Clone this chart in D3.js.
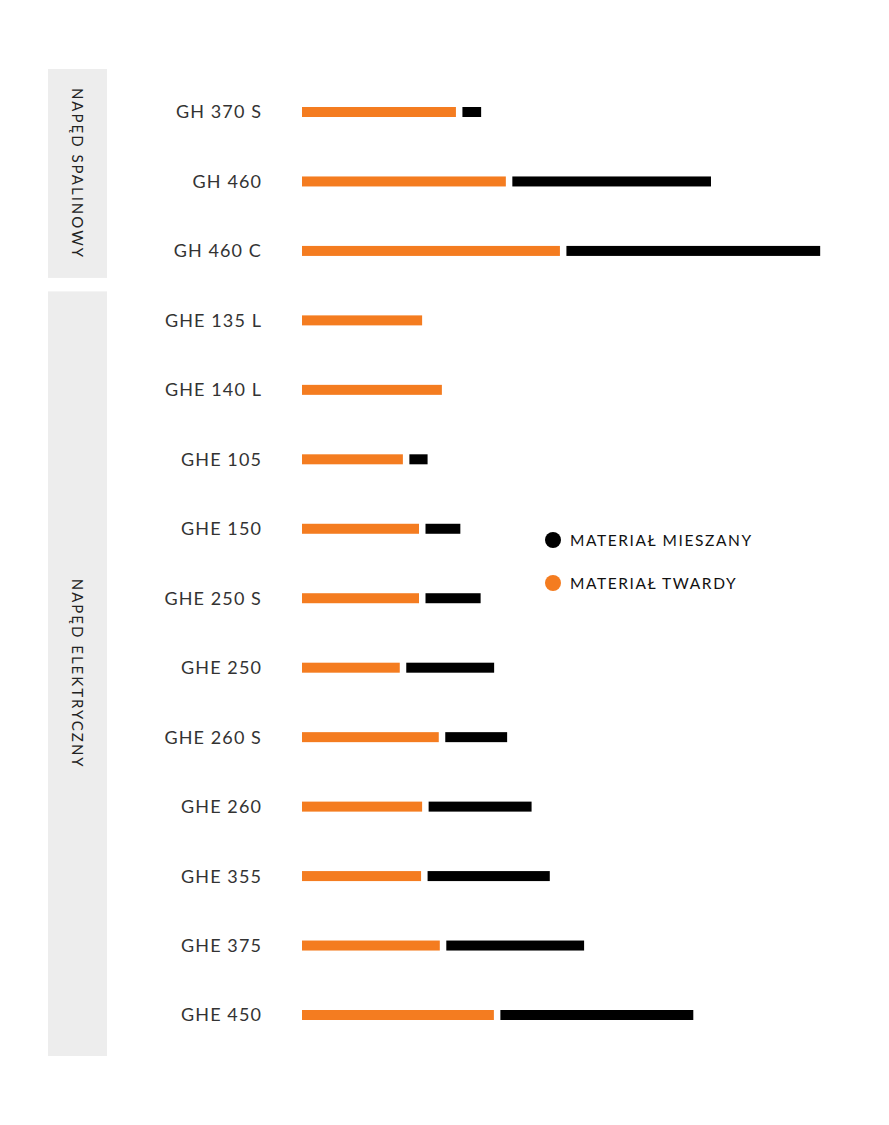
<!DOCTYPE html>
<html>
<head>
<meta charset="utf-8">
<script src="https://cdn.jsdelivr.net/npm/d3@7"></script>
<style>
  body { margin: 0; background: #fff; }
  text { font-family: Lato, "Open Sans", sans-serif; }
</style>
</head>
<body>
<script>
// data
const models = ["GH 370 S", "GH 460", "GH 460 C", "GHE 135 L", "GHE 140 L", "GHE 105", "GHE 150",
  "GHE 250 S", "GHE 250", "GHE 260 S", "GHE 260", "GHE 355", "GHE 375", "GHE 450"];
const hard = [29.6, 39.2, 49.6, 23.1, 26.9, 19.4, 22.5, 22.5, 18.8, 26.3, 23.1, 22.9, 26.5, 36.9];
const mixed = [3.6, 38.2, 48.8, 0, 0, 3.5, 6.7, 10.6, 16.9, 11.9, 19.8, 23.5, 26.5, 37.1];
const groups = [
  { name: "NAPĘD SPALINOWY", first: "GH 370 S", last: "GH 460 C" },
  { name: "NAPĘD ELEKTRYCZNY", first: "GHE 135 L", last: "GHE 450" }
];
const legendItems = ["MATERIAŁ MIESZANY", "MATERIAŁ TWARDY"];

const w = 889;
const h = 1125;
const orange = "#f47c20";
const gap = 6.5;
const barH = 10;

const svg = d3.select("body").append("svg").attr("width", w).attr("height", h);

const xScale = d3.scaleLinear().domain([0, 100]).range([302, 822]);
const yScale = d3.scalePoint().domain(models).range([112, 1015]);

// panel extents around each group of rows
const panelTop = (d, i) => i === 0 ? yScale(d.first) - 43 : yScale(d.first) - 29;
const panelBottom = (d, i) => i === 0 ? yScale(d.last) + 27 : yScale(d.last) + 41;

// group panels on the left
const grp = svg.selectAll(".group").data(groups).enter().append("g").attr("class", "group");

grp.append("rect")
  .attr("x", 48)
  .attr("width", 59)
  .attr("y", panelTop)
  .attr("height", (d, i) => panelBottom(d, i) - panelTop(d, i))
  .attr("fill", "#ededed");

grp.append("text")
  .attr("transform", (d, i) => "translate(77," + (panelTop(d, i) + panelBottom(d, i)) / 2 + ") rotate(90)")
  .attr("text-anchor", "middle")
  .attr("dy", "0.35em")
  .attr("font-size", 15)
  .attr("letter-spacing", 2)
  .attr("fill", "#222")
  .text(d => d.name);

// model labels
svg.selectAll(".label").data(models).enter().append("text")
  .attr("class", "label")
  .attr("x", 262)
  .attr("y", d => yScale(d))
  .attr("dy", "0.36em")
  .attr("text-anchor", "end")
  .attr("font-size", 18)
  .attr("letter-spacing", 1.1)
  .attr("fill", "#333")
  .text(d => d);

// hard material bars
svg.selectAll(".hard").data(models).enter().append("rect")
  .attr("class", "hard")
  .attr("x", xScale(0))
  .attr("y", d => yScale(d) - barH / 2)
  .attr("width", (d, i) => xScale(hard[i]) - xScale(0))
  .attr("height", barH)
  .attr("fill", orange);

// mixed material bars
svg.selectAll(".mixed").data(models.filter((d, i) => mixed[i] > 0)).enter().append("rect")
  .attr("class", "mixed")
  .attr("x", d => xScale(hard[models.indexOf(d)]) + gap)
  .attr("y", d => yScale(d) - barH / 2)
  .attr("width", d => xScale(mixed[models.indexOf(d)]) - xScale(0))
  .attr("height", barH)
  .attr("fill", "#000");

// legend
const legend = svg.selectAll(".legend").data(legendItems).enter().append("g")
  .attr("class", "legend")
  .attr("transform", (d, i) => "translate(553," + (540 + i * 43) + ")");

legend.append("circle")
  .attr("r", 8)
  .attr("fill", (d, i) => i === 0 ? "#000" : orange);

legend.append("text")
  .attr("x", 17)
  .attr("dy", "0.36em")
  .attr("font-size", 15.5)
  .attr("letter-spacing", 1.6)
  .attr("fill", "#111")
  .text(d => d);
</script>
</body>
</html>
